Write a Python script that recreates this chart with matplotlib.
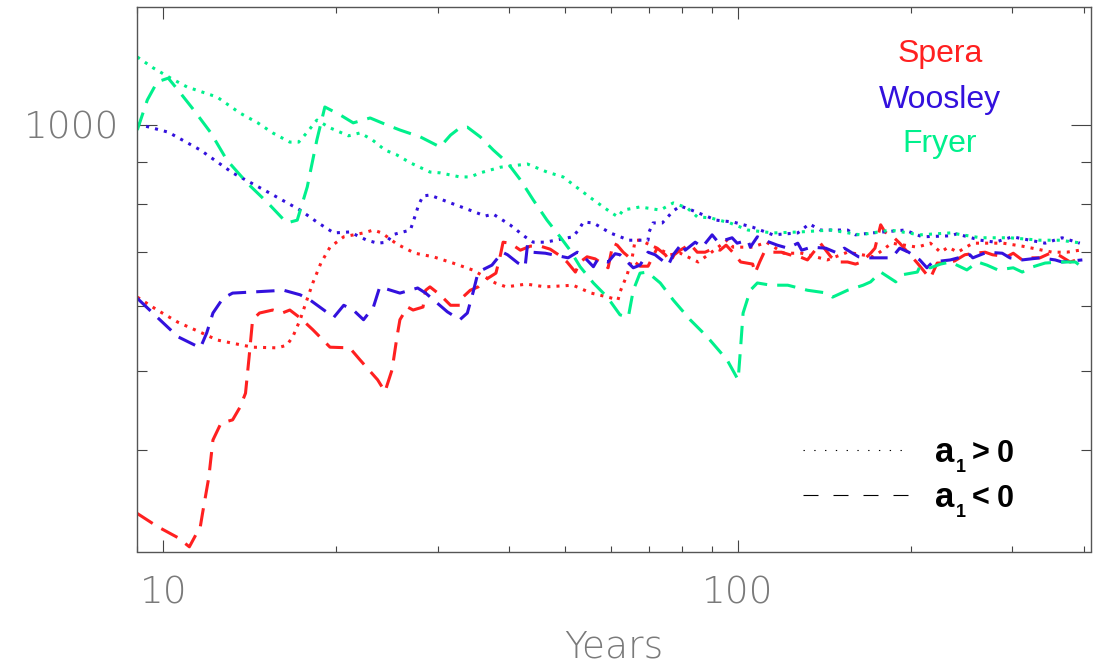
import numpy as np
import matplotlib
matplotlib.use("Agg")
import matplotlib.pyplot as plt
from matplotlib.ticker import LogLocator, NullFormatter, FixedLocator, FixedFormatter
from matplotlib.lines import Line2D

# ---------------- data (years, value) ----------------
spera_pos_x = [9.01,9.76,10.6,11.6,12.4,13.2,14.3,15.8,16.4,16.8,17.3,17.7,18.2,18.8,19.5,20.6,22.3,23.2,24,25.5,27.4,29.5,31.9,34.5,36,37.8,39.5,42.8,46.2,49.8,51.6,55.5,59.4,61.8,62.3,64.1,65.4,66.2,67.5,72.9,76.2,79.3,85.2,88.7,95.7,98,106,112,120,129,143,155,172,185,205,216,225,232,241,256,274,289,312,352,373,393]
spera_pos_y = [616,594,574,558,546,541,535,534,538,551,578,606,641,678,709,730,738,744,738,715,697,690,678,665,654,641,634,639,634,636,637,623,616,611,625,656,688,723,723,705,694,697,680,694,723,709,709,719,697,697,684,699,690,717,709,717,699,709,699,717,717,717,711,699,699,703]

spera_neg_x = [9.01,9.76,10.6,11.1,11.6,11.7,12,12.2,12.6,13.2,13.6,13.9,14.1,14.3,14.7,15.5,16.1,16.6,17.3,18.2,19.5,21.1,22,23.6,24.3,25,25.5,25.8,26.6,27.2,28.3,28.6,29.1,30.3,31.6,32.8,33.2,34.2,35.3,36.5,37.9,38.6,39,40.1,41.8,43.5,45.3,47.1,49,50.4,52.1,53.1,54.6,56.4,58.2,59.4,60.6,61.6,63.1,65.4,67.5,69.7,72.3,74.7,76.2,77.4,79.3,82.5,84.9,87.6,90.8,93,95.3,98.8,101,106,107,109,111,114,119,123,128,132,137,139,145,149,155,160,164,170,173,177,180,186,191,199,205,213,216,222,229,238,248,258,269,277,286,291,301,312,325,335,349,363,378,398]
spera_neg_y = [335,323,313,305,323,335,371,412,432,436,452,470,520,578,589,594,589,594,581,562,535,534,516,488,472,502,551,578,599,594,599,628,634,620,602,602,616,628,634,648,659,694,719,717,703,711,711,705,692,680,661,680,690,686,676,669,717,713,699,684,672,672,707,694,680,694,703,715,699,699,707,703,713,694,680,676,659,680,699,699,699,694,690,684,707,717,690,680,680,676,680,697,707,755,740,730,717,694,678,656,650,678,678,682,694,697,699,694,692,688,697,684,688,688,697,692,680,688]

woosley_pos_x = [9.01,10.2,11.6,13.2,15.2,17.3,18.5,19.8,21.1,22.6,23.6,24.5,25,26.9,27.2,27.8,28.3,29.1,31.3,33.8,36.3,37.5,40.1,42.6,44,46.2,51.6,52.9,53.8,56,59.9,64.6,69.7,70,71.1,73.8,77.1,79.3,82.2,91.6,98,106,115,127,133,139,155,160,171,195,209,234,240,264,280,300,342,366,393]
woosley_pos_y = [1003,980,932,874,828,787,761,738,740,723,717,719,734,744,761,798,819,821,805,789,774,778,755,730,719,719,730,746,761,759,738,723,723,740,759,759,785,796,789,765,761,750,734,738,757,744,744,734,738,744,730,732,736,723,719,730,717,728,717]

woosley_neg_x = [9.01,9.76,10.6,11.6,11.9,12.2,12.7,13.2,16.2,17.3,18,19.8,20.6,21.4,22.3,23.2,23.8,25.8,27.7,28.6,31.2,32.8,33.8,34.6,35.2,35.9,37.3,38.9,39.7,41.4,42.6,43,43.8,46.2,50.6,52.5,53.5,56,56.9,59.4,61.1,62.3,65.7,67.5,69.7,71.7,75.6,77.1,79.9,80.9,84.2,86.6,90.1,92.3,97.6,99.6,104,105,108,111,117,122,127,129,134,142,149,153,162,168,185,191,198,207,213,218,234,253,256,271,288,297,312,335,356,366,397]
woosley_neg_y = [614,582,551,534,557,589,614,623,628,620,611,582,602,594,578,599,634,623,632,623,591,578,589,625,656,665,674,699,694,678,671,713,699,697,688,699,694,671,684,680,696,694,669,674,699,694,674,694,717,703,719,709,734,719,728,717,723,709,730,723,713,707,717,703,709,707,697,707,690,688,688,707,699,684,669,680,684,694,688,699,697,688,684,688,684,680,684]

fryer_pos_x = [9.01,9.61,10.3,11,12.4,13.6,14.6,15.5,16.6,17.2,17.8,18.5,19.5,21,22,23.1,24.3,25.5,26.9,29.1,30.3,32.8,34.2,35.6,38.6,43,46.5,49.6,53.1,56,59.9,61.8,63.1,67.5,73.2,77.1,81.5,84.9,89.4,96.8,104,115,128,145,163,184,207,234,264,297,335,363,397]
fryer_pos_y = [1211,1174,1141,1113,1082,1034,1006,978,953,953,980,1014,992,970,978,959,932,919,899,876,874,864,864,874,888,896,876,864,833,810,783,772,787,794,787,803,792,772,770,759,744,738,740,744,734,744,734,738,728,728,723,723,717]

fryer_neg_x = [9.01,9.38,9.76,10.2,10.6,11.3,12.1,12.9,14,15.2,16.4,17.1,17.8,18.5,19.1,20.3,21.4,22.9,24.5,25.8,28,30.3,31.6,32.8,33.8,35.6,37.5,39.7,41.8,44,46.5,49,51,53.1,56,59.2,62.3,64.4,65.7,67.5,69.5,73.2,77.1,82.5,88.3,95.7,100,101,102,105,108,114,122,132,143,146,155,165,170,177,188,193,205,207,216,225,234,250,261,271,283,301,312,326,342,363,386,398]
fryer_neg_y = [986,1073,1129,1141,1104,1043,978,906,849,803,759,765,840,959,1052,1029,1006,1020,1000,986,967,940,972,992,994,967,932,899,857,810,765,730,703,671,641,616,586,582,628,659,661,641,611,578,551,516,488,535,589,628,641,637,637,628,623,616,628,637,643,661,643,656,661,671,669,676,680,665,680,674,665,669,661,671,678,680,680,669]

model_names = ["Spera", "Woosley", "Fryer"]
model_colors = ["#ff2020", "#3311dd", "#00f08c"]
y_major_ticks = [1000]
y_major_labels = ["1000"]
y_minor_ticks = [400, 500, 600, 700, 800, 900]
x_major_ticks = [10, 100]
x_major_labels = ["10", "100"]
x_label = "Years"

# ---------------- figure ----------------
W, H = 1098, 663
fig = plt.figure(figsize=(W / 100, H / 100), dpi=100)
ax = fig.add_axes([137 / W, 1 - 551.5 / H, (1091 - 137) / W, (551.5 - 7) / H])

DOT = (0, (1, 2))
DASH = (0, (6, 3.3))
series = [
    (spera_pos_x, spera_pos_y, model_colors[0], DOT),
    (spera_neg_x, spera_neg_y, model_colors[0], DASH),
    (woosley_pos_x, woosley_pos_y, model_colors[1], DOT),
    (woosley_neg_x, woosley_neg_y, model_colors[1], DASH),
    (fryer_pos_x, fryer_pos_y, model_colors[2], DOT),
    (fryer_neg_x, fryer_neg_y, model_colors[2], DASH),
]
for xs, ys, c, ls in series:
    ax.plot(xs, ys, color=c, lw=2.2, linestyle=ls)

ax.set_xscale("log")
ax.set_yscale("log")
ax.set_xlim(9.0, 411)
ax.set_ylim(301, 1394)

for s in ax.spines.values():
    s.set_color("#555555")
    s.set_linewidth(1.0)

ax.yaxis.set_major_locator(FixedLocator(y_major_ticks))
ax.yaxis.set_major_formatter(FixedFormatter(y_major_labels))
ax.yaxis.set_minor_locator(FixedLocator(y_minor_ticks))
ax.yaxis.set_minor_formatter(NullFormatter())
ax.xaxis.set_major_locator(FixedLocator(x_major_ticks))
ax.xaxis.set_major_formatter(FixedFormatter(x_major_labels))
ax.xaxis.set_minor_locator(LogLocator(base=10, subs=np.arange(2, 10)))
ax.xaxis.set_minor_formatter(NullFormatter())

tkw = dict(direction="in", color="#444444", width=0.8)
ax.tick_params(axis="y", which="major", length=14.4, left=True, right=True, pad=13, **tkw)
ax.tick_params(axis="y", which="minor", length=7.2, left=True, right=True, **tkw)
ax.tick_params(axis="x", which="major", length=8.6, top=True, bottom=True, pad=17, **tkw)
ax.tick_params(axis="x", which="minor", length=4.3, top=True, bottom=True, **tkw)

lab = dict(family="DejaVu Sans", weight=200, color="#7a7a7a", size=27)
for t in ax.get_xticklabels() + ax.get_yticklabels():
    t.set_fontfamily("DejaVu Sans")
    t.set_fontweight(200)
    t.set_color("#7a7a7a")
    t.set_fontsize(27)
fig.text(614 / W, 1 - 658 / H, x_label, ha="center", va="baseline", **lab)

# model name key
for n, c, yb in zip(model_names, model_colors, [62, 108, 152]):
    fig.text(940 / W, 1 - yb / H, n, ha="center", va="baseline", color=c,
             fontsize=23, family="Liberation Sans")

# line-style key
fig.add_artist(Line2D([803 / W, 908 / W], [1 - 450 / H, 1 - 450 / H], color="black",
                      lw=0.8, linestyle=(0, (1.2, 8.5))))
fig.add_artist(Line2D([803 / W, 908 / W], [1 - 495 / H, 1 - 495 / H], color="black",
                      lw=0.8, linestyle=(0, (13.5, 13.5))))
lk = dict(family="Liberation Sans", weight="bold", color="black", va="baseline")
for yb, sym in [(462, ">"), (507, "<")]:
    fig.text(935 / W, 1 - yb / H, "a", ha="left", fontsize=25, **lk)
    fig.text(956 / W, 1 - (yb + 10) / H, "1", ha="left", fontsize=13, **lk)
    fig.text(981 / W, 1 - yb / H, sym, ha="center", fontsize=22, **lk)
    fig.text(997 / W, 1 - yb / H, "0", ha="left", fontsize=22, **lk)

fig.savefig("out.png")
